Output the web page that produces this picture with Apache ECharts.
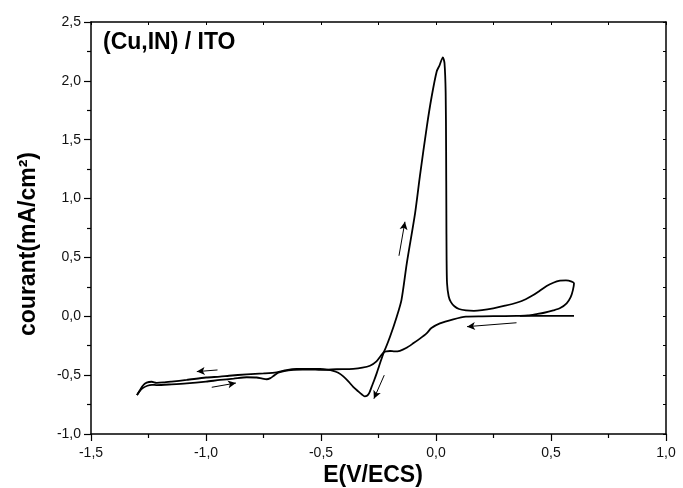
<!DOCTYPE html>
<html>
<head>
<meta charset="utf-8">
<script src="https://cdn.jsdelivr.net/npm/echarts@6/dist/echarts.min.js"></script>
<style>html,body{margin:0;padding:0;background:#fff}#c{width:683px;height:488px}</style>
</head>
<body>
<div id="c"></div>
<script>
// Cathodic scan (from 0.6 V towards -1.3 V)
const cathodicE = [0.60,0.50,0.40,0.30,0.20,0.13,0.075,0.017,-0.02,-0.041,-0.07,-0.099,-0.13,-0.157,-0.18,-0.20,-0.215,-0.226,-0.236,-0.247,-0.258,-0.27,-0.28,-0.29,-0.30,-0.31,-0.322,-0.34,-0.36,-0.38,-0.403,-0.425,-0.447,-0.475,-0.504,-0.55,-0.606,-0.65,-0.693,-0.75,-0.823,-0.90,-0.939,-1.0,-1.084,-1.15,-1.186,-1.215,-1.236,-1.258,-1.275,-1.288,-1.30];
const cathodicI = [0.003,0.003,0.003,0.002,0.0,-0.003,-0.026,-0.06,-0.10,-0.145,-0.19,-0.23,-0.27,-0.293,-0.298,-0.295,-0.298,-0.305,-0.357,-0.42,-0.485,-0.55,-0.60,-0.65,-0.675,-0.68,-0.665,-0.635,-0.60,-0.555,-0.51,-0.48,-0.463,-0.453,-0.448,-0.447,-0.448,-0.458,-0.476,-0.485,-0.493,-0.505,-0.513,-0.52,-0.541,-0.555,-0.562,-0.565,-0.556,-0.564,-0.59,-0.63,-0.67];
// Anodic scan (from -1.3 V back to 0.6 V and loop closing)
const anodicE = [-1.30,-1.29,-1.275,-1.255,-1.235,-1.215,-1.15,-1.084,-1.0,-0.939,-0.88,-0.823,-0.78,-0.755,-0.736,-0.72,-0.707,-0.686,-0.66,-0.62,-0.58,-0.55,-0.50,-0.432,-0.36,-0.32,-0.287,-0.26,-0.24,-0.226,-0.20,-0.171,-0.15,-0.127,-0.091,-0.07,-0.04,-0.019,0.003,0.015,0.030,0.037,0.042,0.044,0.045,0.046,0.048,0.055,0.065,0.08,0.10,0.13,0.165,0.20,0.249,0.30,0.35,0.39,0.423,0.45,0.481,0.51,0.539,0.565,0.59,0.60,0.595,0.585,0.568,0.54,0.51,0.47,0.437,0.40,0.365];
const anodicI = [-0.67,-0.64,-0.61,-0.59,-0.582,-0.584,-0.578,-0.57,-0.555,-0.541,-0.53,-0.518,-0.52,-0.53,-0.535,-0.525,-0.508,-0.48,-0.465,-0.455,-0.452,-0.452,-0.455,-0.45,-0.446,-0.437,-0.42,-0.385,-0.335,-0.30,-0.174,-0.006,0.14,0.45,0.875,1.19,1.61,1.865,2.08,2.13,2.20,2.15,1.9,1.4,0.9,0.5,0.28,0.17,0.12,0.085,0.062,0.05,0.046,0.052,0.068,0.09,0.115,0.145,0.18,0.215,0.257,0.285,0.302,0.305,0.295,0.28,0.22,0.16,0.11,0.07,0.05,0.03,0.019,0.008,0.004];
// Scan-direction arrows: start and end points (E, I)
const arrowStarts = [[-0.161,0.514],[-0.225,-0.50],[0.35,-0.055],[-0.95,-0.456],[-0.975,-0.603]];
const arrowEnds   = [[-0.135,0.803],[-0.27,-0.70],[0.135,-0.088],[-1.04,-0.47],[-0.87,-0.567]];
// Axis ticks
const xTicks = {min:-1.5,max:1.0,step:0.5};
const yTicks = {min:-1.0,max:2.5,step:0.5};
const titleText = '(Cu,IN) / ITO';
const xName = 'E(V/ECS)';
const yName = 'courant(mA/cm²)';

const FONT = "'Liberation Sans', Arial, sans-serif";
const pairs = (a,b)=>a.map((v,i)=>[v,b[i]]);
const fmt = v => v.toFixed(1).replace('.', ',');

const chart = echarts.init(document.getElementById('c'), null, {renderer:'canvas'});
const axisLine = {show:true, onZero:false, lineStyle:{color:'#000', width:1.5}};
const mirrorTick = {show:true,inside:true,length:3,lineStyle:{color:'#000'}};
chart.setOption({
  animation:false,
  backgroundColor:'#fff',
  title:{text:titleText,left:98,top:26,textStyle:{fontFamily:FONT,fontSize:23,fontWeight:'bold',color:'#000'}},
  graphic:[{
    type:'text',x:29,y:244,rotation:Math.PI/2,
    style:{text:yName,font:"bold 23px 'Liberation Sans', Arial, sans-serif",fill:'#000',align:'center',verticalAlign:'middle'}
  },{
    type:'text',x:373,y:476,
    style:{text:xName,font:"bold 23px 'Liberation Sans', Arial, sans-serif",fill:'#000',align:'center',verticalAlign:'middle'}
  }],
  grid:{left:91,right:17,top:22,bottom:54,containLabel:false,outerBoundsMode:'none'},
  xAxis:[{
    type:'value',min:xTicks.min,max:xTicks.max,interval:xTicks.step,
    axisLine:axisLine,
    axisTick:{show:true,inside:false,length:7,lineStyle:{color:'#000',width:1.2}},
    minorTick:{show:true,splitNumber:2,length:4,lineStyle:{color:'#000',width:1.2}},
    splitLine:{show:false},
    axisLabel:{formatter:fmt,fontFamily:FONT,fontSize:14,color:'#111',margin:12}
  },{
    type:'value',position:'top',min:xTicks.min,max:xTicks.max,interval:xTicks.step,
    axisLine:axisLine,axisTick:mirrorTick,
    minorTick:{show:true,splitNumber:2,length:3,lineStyle:{color:'#000'}},
    axisLabel:{show:false},splitLine:{show:false}
  }],
  yAxis:[{
    type:'value',min:yTicks.min,max:yTicks.max,interval:yTicks.step,
    axisLine:axisLine,
    axisTick:{show:true,inside:false,length:7,lineStyle:{color:'#000',width:1.2}},
    minorTick:{show:true,splitNumber:2,length:4,lineStyle:{color:'#000',width:1.2}},
    splitLine:{show:false},
    axisLabel:{formatter:fmt,fontFamily:FONT,fontSize:14,color:'#111',margin:10}
  },{
    type:'value',position:'right',min:yTicks.min,max:yTicks.max,interval:yTicks.step,
    axisLine:axisLine,axisTick:mirrorTick,
    minorTick:{show:true,splitNumber:2,length:3,lineStyle:{color:'#000'}},
    axisLabel:{show:false},splitLine:{show:false}
  }],
  series:[{
    type:'line',data:pairs(cathodicE,cathodicI),showSymbol:false,symbol:'none',smooth:0.25,
    lineStyle:{color:'#000',width:1.8}
  },{
    type:'line',data:pairs(anodicE,anodicI),showSymbol:false,symbol:'none',smooth:0.25,
    lineStyle:{color:'#000',width:1.8},
    markLine:{
      silent:true,symbol:['none','arrow'],symbolSize:[6,8],
      lineStyle:{color:'#000',width:1,type:'solid'},label:{show:false},
      data:arrowStarts.map((s,i)=>[{coord:s},{coord:arrowEnds[i]}])
    }
  }]
});
</script>
</body>
</html>
